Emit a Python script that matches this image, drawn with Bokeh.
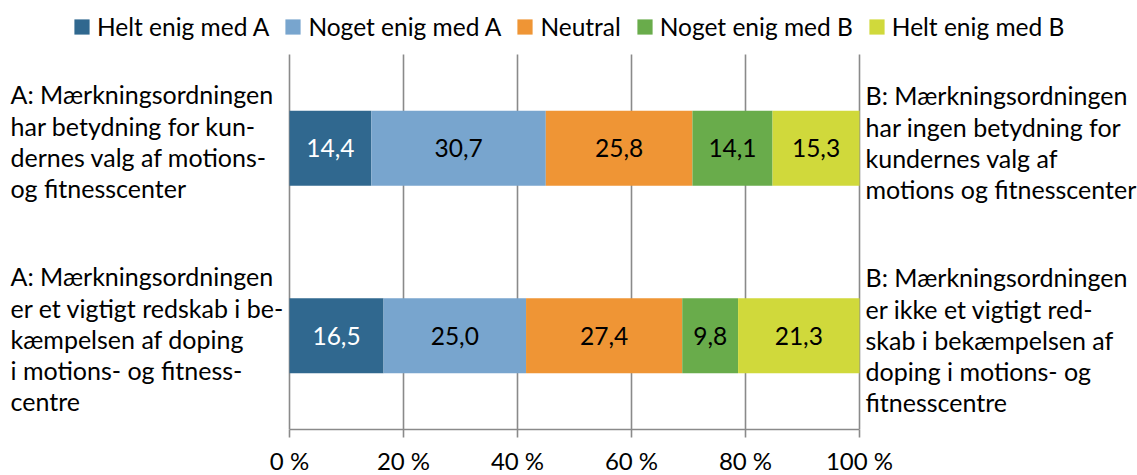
from bokeh.plotting import figure
from bokeh.models import ColumnDataSource, Range1d, Label, FixedTicker, Legend, LegendItem
from bokeh.core.properties import value
from bokeh.embed import file_html
from bokeh.resources import INLINE

FONT = "Lato"

series = ["Helt enig med A", "Noget enig med A", "Neutral", "Noget enig med B", "Helt enig med B"]
colors = ["#30688F", "#78A5CE", "#EF9535", "#69AC4B", "#D0D93B"]
label_colors = ["white", "black", "black", "black", "black"]

left_labels = [
    "A: Mærkningsordningen\nhar betydning for kun-\ndernes valg af motions-\nog fitnesscenter",
    "A: Mærkningsordningen\ner et vigtigt redskab i be-\nkæmpelsen af doping\ni motions- og fitness-\ncentre",
]
right_labels = [
    "B: Mærkningsordningen\nhar ingen betydning for\nkundernes valg af\nmotions og fitnesscenter",
    "B: Mærkningsordningen\ner ikke et vigtigt red-\nskab i bekæmpelsen af\ndoping i motions- og\nfitnesscentre",
]

helt_a = [14.4, 16.5]
noget_a = [30.7, 25.0]
neutral = [25.8, 27.4]
noget_b = [14.1, 9.8]
helt_b = [15.3, 21.3]

tick_values = [0, 20, 40, 60, 80, 100]
tick_labels = ["0 %", "20 %", "40 %", "60 %", "80 %", "100 %"]

values = [helt_a, noget_a, neutral, noget_b, helt_b]
n = len(left_labels)
ypos = [n - i - 0.5 for i in range(n)]

# 100 % stacked: normalise each row for the bar lengths
totals = [sum(vals[j] for vals in values) for j in range(n)]
shares = [[vals[j] / totals[j] * 100.0 for j in range(n)] for vals in values]

# layout (pixels)
FIG_W = 1137
PLOT_LEFT = 289
PLOT_W = 570
PLOT_TOP = 54
PLOT_H = 375
px = 100.0 / PLOT_W
py = n / PLOT_H
x_start = -PLOT_LEFT * px
x_end = (FIG_W - PLOT_LEFT) * px
y_end = n + PLOT_TOP * py
left_offsets = [7, -3]
right_offsets = [6, -4]

data = {"y": ypos}
for name, sh in zip(series, shares):
    data[name] = sh
source = ColumnDataSource(data)

p = figure(frame_width=FIG_W, frame_height=PLOT_TOP + PLOT_H,
           min_border_left=0, min_border_right=0,
           min_border_top=0, min_border_bottom=0,
           x_range=Range1d(x_start, x_end), y_range=Range1d(0, y_end),
           y_axis_location=None,
           output_backend="svg", toolbar_location=None)
p.outline_line_color = None
p.xgrid.grid_line_color = None
p.ygrid.grid_line_color = None

# vertical gridlines over the data area
p.segment(x0=tick_values, y0=[0] * len(tick_values), x1=tick_values,
          y1=[n] * len(tick_values), line_color="#8A8A8A", line_width=1.6)

rs = p.hbar_stack(series, y="y", height=0.4, color=colors, line_color=None,
                  source=source)

# value labels
lx, ly, lt, lc = [], [], [], []
for j in range(n):
    cum = 0.0
    for k in range(len(values)):
        s = shares[k][j]
        lx.append(cum + s / 2.0)
        ly.append(ypos[j])
        lt.append(f"{values[k][j]:.1f}".replace(".", ","))
        lc.append(label_colors[k])
        cum += s
tsrc = ColumnDataSource(dict(x=lx, y=ly, t=lt, c=lc))
p.text(x="x", y="y", text="t", text_color="c", source=tsrc,
       text_align="center", text_baseline="middle",
       text_font=value(FONT), text_font_size="24.5px")

# side labels
for j in range(n):
    p.add_layout(Label(x=(10 - PLOT_LEFT) * px, y=ypos[j], y_offset=left_offsets[j],
                       text=left_labels[j],
                       text_align="left", text_baseline="middle",
                       text_font=FONT, text_font_size="25px",
                       text_line_height=1.04, text_color="black"))
    p.add_layout(Label(x=(865 - PLOT_LEFT) * px, y=ypos[j], y_offset=right_offsets[j],
                       text=right_labels[j],
                       text_align="left", text_baseline="middle",
                       text_font=FONT, text_font_size="25px",
                       text_line_height=1.04, text_color="black"))

ax = p.xaxis[0]
ax.ticker = FixedTicker(ticks=tick_values)
ax.bounds = (tick_values[0], tick_values[-1])
ax.major_label_overrides = {t: l for t, l in zip(tick_values, tick_labels)}
ax.axis_line_color = "#8A8A8A"
ax.axis_line_width = 1.6
ax.major_tick_line_color = "#8A8A8A"
ax.major_tick_line_width = 1.6
ax.major_tick_out = 8
ax.major_tick_in = 0
ax.minor_tick_line_color = None
ax.major_label_standoff = 8
ax.major_label_text_font = FONT
ax.major_label_text_font_size = "24px"
ax.major_label_text_color = "black"

lg = Legend(items=[LegendItem(label=s, renderers=[r]) for s, r in zip(series, rs)])
lg.orientation = "horizontal"
lg.location = (72, 388)
lg.glyph_width = 19
lg.glyph_height = 19
lg.label_height = 25
lg.label_standoff = 6
lg.spacing = 14
lg.padding = 0
lg.margin = 0
lg.label_text_font = FONT
lg.label_text_font_size = "24.5px"
lg.label_text_color = "black"
lg.background_fill_alpha = 0
lg.border_line_alpha = 0
p.add_layout(lg, "center")

open("out.html", "w").write(file_html(p, INLINE))
